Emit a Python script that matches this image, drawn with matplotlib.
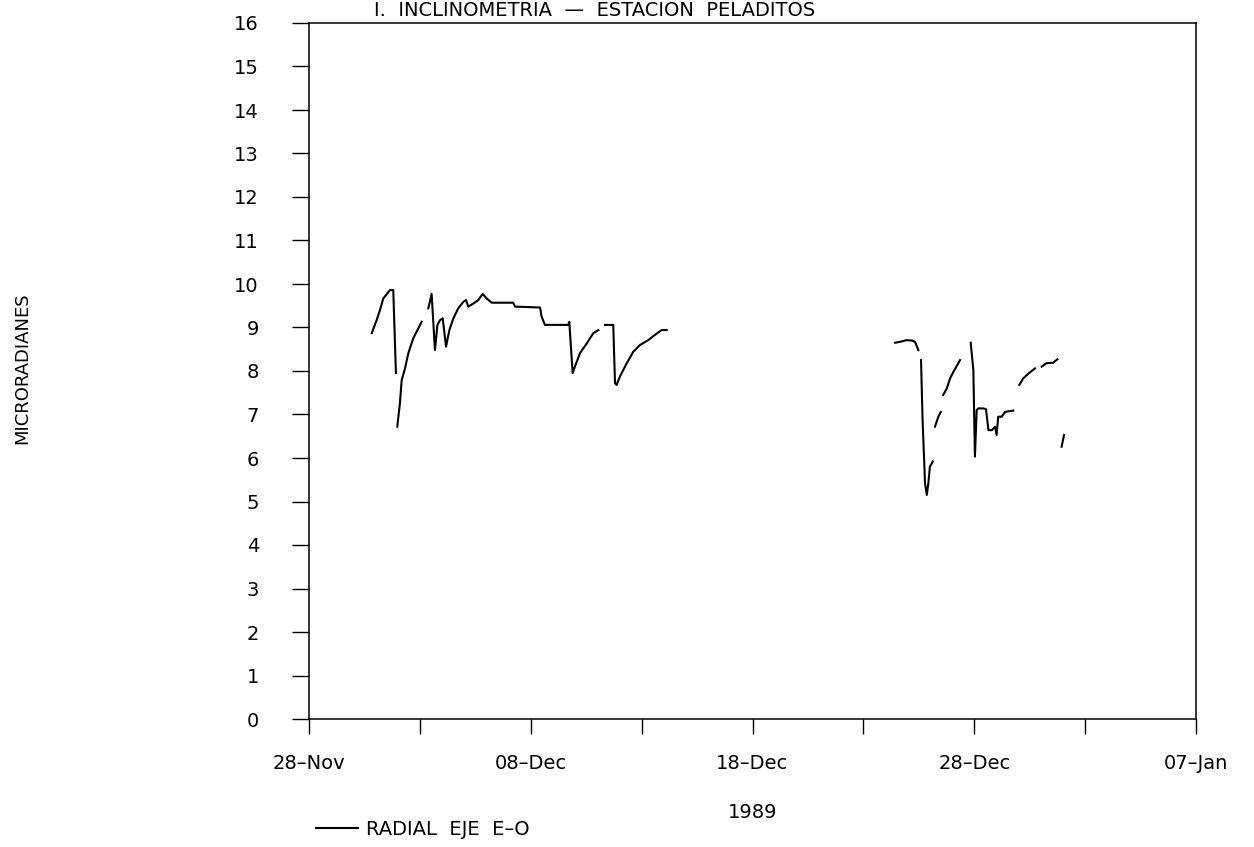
import numpy as np
import pandas as pd
import matplotlib
matplotlib.use("Agg")
import matplotlib.pyplot as plt
import matplotlib.dates as mdates

plt.rcParams['font.family'] = ['DejaVu Sans']

start_date = pd.Timestamp("1989-11-28")
end_date = pd.Timestamp("1990-01-07")

# days after 28-Nov and tilt in microradians (NaN = gap in the record)
days = [2.83, 3.05, 3.2, 3.35, 3.53, 3.65, 3.8, 3.92, np.nan,
        3.98, 4.1, 4.18, 4.33, 4.48, 4.7, 4.93, 5.08, np.nan,
        5.38, 5.53, 5.68, 5.79, 5.91, 6.03, 6.18, 6.33, 6.51, 6.73, 6.96, 7.08,
        7.18, 7.41, 7.63, 7.83, 8.01, 8.24, 9.21, 9.29, 10.42, 10.49, 10.64,
        11.69, 11.74, 11.77, 11.89, 11.99, 12.22, 12.52, 12.82, 13.05, np.nan,
        13.35, 13.72, 13.8, 13.87, 14.02, 14.33, 14.62, 14.93, 15.3, 15.6, 15.9, 16.13, np.nan,
        26.43, 26.65, 26.95, 27.18, 27.33, 27.48, np.nan,
        27.6, 27.67, 27.78, 27.86, 27.93, 28.0, 28.13, np.nan,
        28.23, 28.38, 28.49, np.nan,
        28.6, 28.76, 28.91, 29.06, 29.36, np.nan,
        29.84, 29.96, 30.03, 30.11, 30.18, 30.41, 30.53, 30.64, 30.79, 30.94,
        31.01, 31.08, 31.24, 31.39, 31.76, np.nan,
        32.03, 32.21, 32.44, 32.74, np.nan,
        33.04, 33.26, 33.56, 33.75, np.nan,
        33.94, 34.05]
values = [8.87, 9.17, 9.40, 9.67, 9.78, 9.86, 9.86, 7.95, np.nan,
          6.72, 7.26, 7.79, 8.06, 8.41, 8.75, 8.98, 9.13, np.nan,
          9.44, 9.77, 8.48, 9.06, 9.17, 9.21, 8.56, 8.94, 9.21, 9.44, 9.59, 9.63,
          9.48, 9.55, 9.63, 9.77, 9.67, 9.57, 9.57, 9.48, 9.46, 9.25, 9.06,
          9.06, 9.13, 8.87, 7.95, 8.10, 8.41, 8.63, 8.87, 8.94, np.nan,
          9.06, 9.06, 7.72, 7.68, 7.87, 8.18, 8.44, 8.60, 8.71, 8.83, 8.94, 8.94, np.nan,
          8.65, 8.67, 8.71, 8.70, 8.67, 8.48, np.nan,
          8.25, 6.87, 5.42, 5.15, 5.42, 5.80, 5.92, np.nan,
          6.72, 6.95, 7.06, np.nan,
          7.45, 7.60, 7.83, 7.98, 8.25, np.nan,
          8.65, 8.02, 6.03, 7.10, 7.14, 7.14, 7.12, 6.64, 6.64, 6.72,
          6.53, 6.95, 6.95, 7.06, 7.09, np.nan,
          7.68, 7.83, 7.94, 8.06, np.nan,
          8.10, 8.18, 8.19, 8.27, np.nan,
          6.26, 6.53]

dates = start_date + pd.to_timedelta(days, unit="D")

fig = plt.figure(figsize=(12.54, 8.47), dpi=100)
ax = fig.add_axes([309/1254, 1-719/847, (1196-309)/1254, (719-23)/847])

ax.plot(dates, values, color='black', lw=1.5, label='RADIAL  EJE  E–O')

ax.set_xlim(start_date, end_date)
ax.set_ylim(0, 16)
ax.set_yticks(range(0, 17))
ax.set_xticks(pd.date_range(start_date, end_date, freq='10D'))
ax.xaxis.set_major_formatter(mdates.DateFormatter('%d–%b'))
ax.set_xticks(pd.date_range(start_date, end_date, freq='5D'), minor=True)

for s in ax.spines.values():
    s.set_linewidth(1.1)
ax.tick_params(axis='y', direction='out', length=12, width=1, pad=24, labelsize=14)
ax.tick_params(axis='x', which='both', direction='out', length=11, width=1, pad=14, labelsize=14)

ax.set_xlabel('1989', fontsize=14, labelpad=22)
fig.text(22/1254, 1-368/847, 'MICRORADIANES', rotation=90, ha='center', va='center', fontsize=13)
fig.text(595/1254, 0.999, 'I.  INCLINOMETRIA  —  ESTACION  PELADITOS', ha='center', va='top', fontsize=14)

ax.legend(loc='center left', bbox_to_anchor=(298/1254, 1-829/847), bbox_transform=fig.transFigure,
          frameon=False, handlelength=2.2, handletextpad=0.4, fontsize=14)

fig.savefig('out.png', dpi=100)
